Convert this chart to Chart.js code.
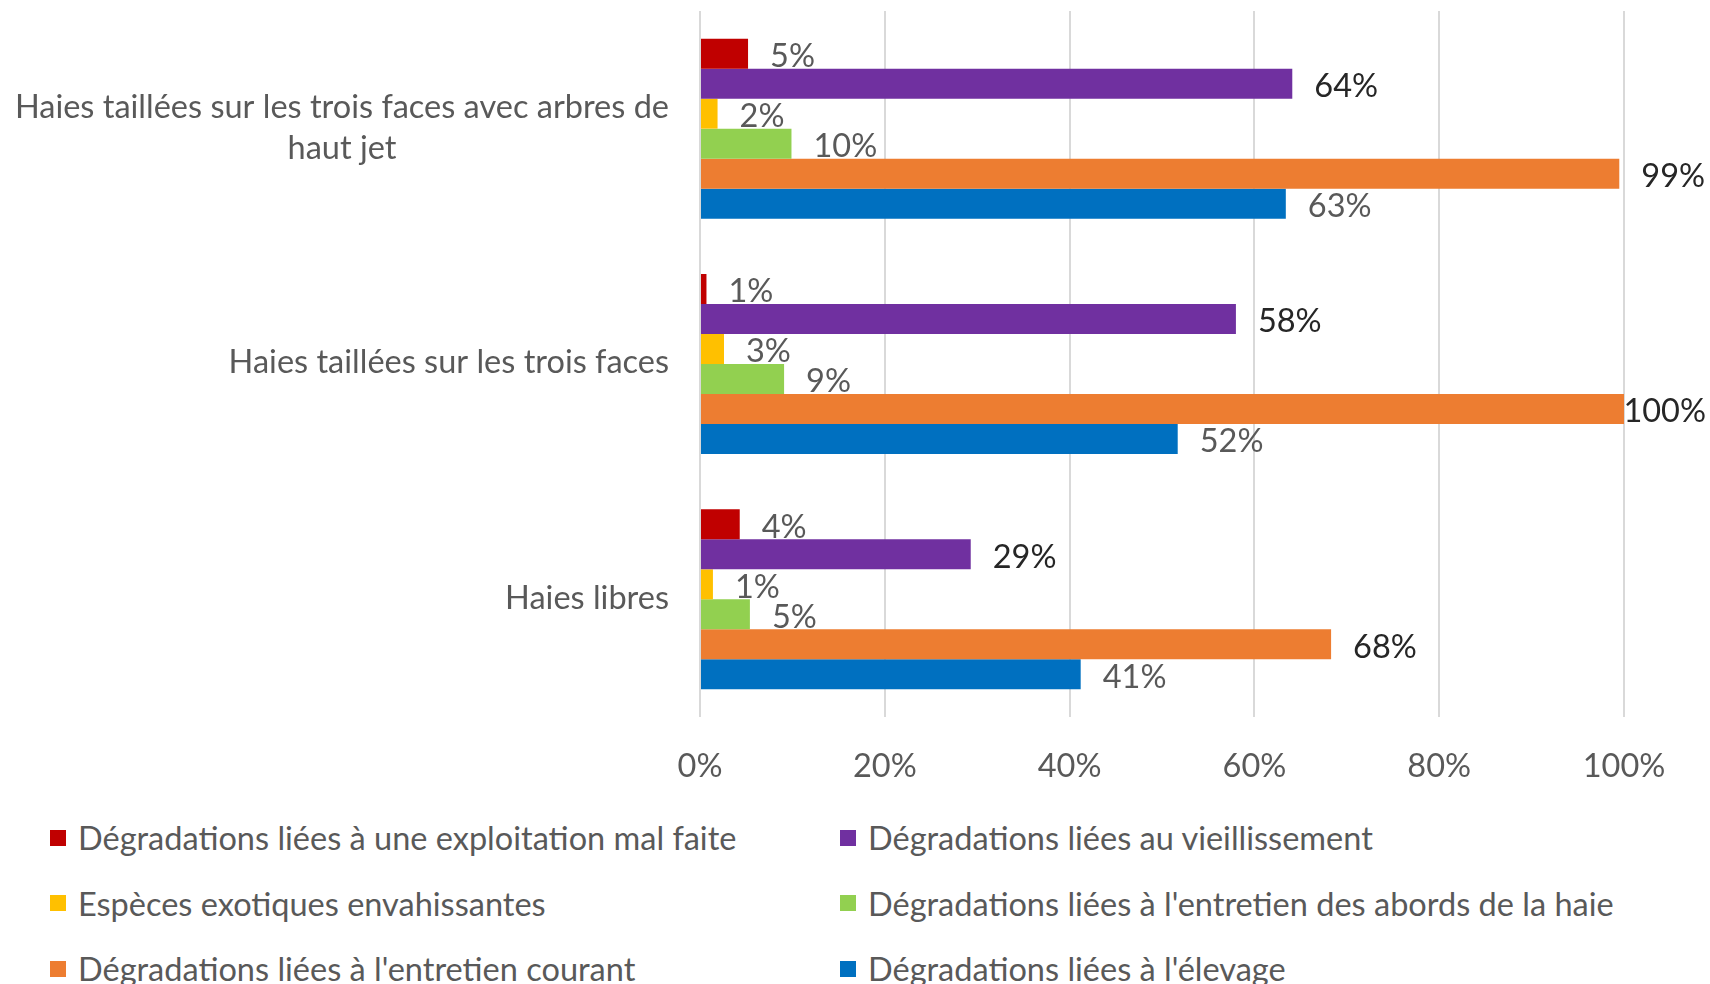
<!DOCTYPE html>
<html>
<head>
<meta charset="utf-8">
<script src="https://cdn.jsdelivr.net/npm/chart.js@4.4.1/dist/chart.umd.min.js"></script>
<style>
  html, body { margin: 0; padding: 0; background: #fff; }
  #wrap { position: relative; width: 1710px; height: 984px; overflow: hidden; }
  #chart { display: block; }
  #legend {
    position: absolute; left: 50px; top: 805px;
    display: grid; grid-template-columns: 790px 790px; grid-auto-rows: 65.5px;
    font-family: Lato, sans-serif; font-size: 32.5px; color: #595959;
  }
  .item { display: flex; align-items: center; white-space: nowrap; }
  .box { width: 16px; height: 16px; margin-right: 12px; flex: none; }
</style>
</head>
<body>
<div id="wrap">
  <canvas id="chart" width="1710" height="800"></canvas>
  <div id="legend"></div>
</div>
<script>
// categories (top to bottom), each split into its display lines
const categories = [
    ['Haies taillées sur les trois faces avec arbres de', 'haut jet'],
    ['Haies taillées sur les trois faces'],
    ['Haies libres']
];

const seriesNames = [
    'Dégradations liées à une exploitation mal faite',
    'Dégradations liées au vieillissement',
    'Espèces exotiques envahissantes',
    "Dégradations liées à l'entretien des abords de la haie",
    "Dégradations liées à l'entretien courant",
    "Dégradations liées à l'élevage"
];
const seriesColors = ['#C00000', '#7030A0', '#FFC000', '#92D050', '#ED7D31', '#0070C0'];
const labelColors = ['#595959', '#262626', '#595959', '#595959', '#262626', '#595959'];

// values in %
const exploitation = [5.2, 0.7, 4.3];
const vieillissement = [64.1, 58.0, 29.3];
const exotiques = [1.9, 2.6, 1.4];
const abords = [9.9, 9.1, 5.4];
const courant = [99.49, 100, 68.3];
const elevage = [63.4, 51.7, 41.2];

const xTicks = [0, 20, 40, 60, 80, 100];

const FONT = 'Lato, sans-serif';
const FONT_SIZE = 32.5;

const seriesValues = [exploitation, vieillissement, exotiques, abords, courant, elevage];

const datasets = seriesNames.map((name, i) => ({
    label: name,
    data: seriesValues[i],
    backgroundColor: seriesColors[i],
    borderWidth: 0,
    barPercentage: 1.0,
    categoryPercentage: 0.765
}));

// category labels: block right-aligned, lines centred inside the block
const categoryLabels = {
    id: 'categoryLabels',
    afterDraw(chart) {
        const ctx = chart.ctx;
        const y = chart.scales.y;
        const right = chart.chartArea.left - 31;
        const lineH = 41;
        ctx.save();
        ctx.font = FONT_SIZE + 'px ' + FONT;
        ctx.fillStyle = '#595959';
        ctx.textAlign = 'center';
        ctx.textBaseline = 'middle';
        categories.forEach((lines, i) => {
            const cy = y.getPixelForValue(i) - 1;
            const w = Math.max(...lines.map(l => ctx.measureText(l).width));
            const cx = right - w / 2;
            const top = cy - (lines.length - 1) * lineH / 2;
            lines.forEach((l, k) => ctx.fillText(l, cx, top + k * lineH));
        });
        ctx.restore();
    }
};

// value labels at the end of each bar
const valueLabels = {
    id: 'valueLabels',
    afterDatasetsDraw(chart) {
        const ctx = chart.ctx;
        ctx.save();
        ctx.font = FONT_SIZE + 'px ' + FONT;
        ctx.textAlign = 'left';
        ctx.textBaseline = 'middle';
        chart.data.datasets.forEach((ds, di) => {
            const meta = chart.getDatasetMeta(di);
            ctx.fillStyle = labelColors[di];
            meta.data.forEach((bar, i) => {
                const text = Math.round(ds.data[i]) + '%';
                const w = ctx.measureText(text).width;
                let x = bar.x + 22;
                if (x + w > chart.width - 4) x = chart.width - 4 - w;
                ctx.fillText(text, x, bar.y + 3);
            });
        });
        ctx.restore();
    }
};

const chart = new Chart(document.getElementById('chart').getContext('2d'), {
    type: 'bar',
    data: {
        labels: categories.map(l => l.join(' ')),
        datasets: datasets
    },
    options: {
        indexAxis: 'y',
        responsive: false,
        animation: false,
        layout: { padding: { top: 11, right: 86, left: 0, bottom: 0 } },
        plugins: {
            legend: { display: false },
            tooltip: { enabled: false }
        },
        scales: {
            x: {
                min: 0,
                max: 100,
                afterBuildTicks: s => { s.ticks = xTicks.map(v => ({ value: v })); },
                afterFit: s => { s.height = 83; },
                grid: { color: '#D9D9D9', lineWidth: 2, drawTicks: false },
                border: { display: false },
                ticks: {
                    padding: 30,
                    color: '#595959',
                    font: { family: FONT, size: FONT_SIZE },
                    callback: v => v + '%'
                }
            },
            y: {
                afterFit: s => { s.width = 700; },
                grid: { display: false },
                border: { display: false },
                ticks: { display: false }
            }
        }
    },
    plugins: [categoryLabels, valueLabels]
});

// legend in two columns
const legend = document.getElementById('legend');
chart.data.datasets.forEach(ds => {
    const item = document.createElement('div');
    item.className = 'item';
    const box = document.createElement('span');
    box.className = 'box';
    box.style.background = ds.backgroundColor;
    const txt = document.createElement('span');
    txt.textContent = ds.label;
    item.appendChild(box);
    item.appendChild(txt);
    legend.appendChild(item);
});
</script>
</body>
</html>
